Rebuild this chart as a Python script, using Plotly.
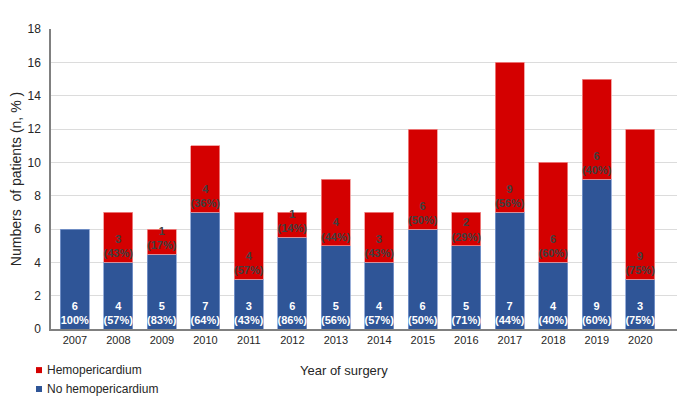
import plotly.graph_objects as go

years = ["2007", "2008", "2009", "2010", "2011", "2012", "2013",
         "2014", "2015", "2016", "2017", "2018", "2019", "2020"]
# segment heights as drawn
no_hemo = [6, 4, 4.5, 7, 3, 5.5, 5, 4, 6, 5, 7, 4, 9, 3]
hemo = [0, 3, 1.5, 4, 4, 1.5, 4, 3, 6, 2, 9, 6, 6, 9]
# labels as printed
no_hemo_lbl = ["6<br>100%", "4<br>(57%)", "5<br>(83%)", "7<br>(64%)", "3<br>(43%)",
               "6<br>(86%)", "5<br>(56%)", "4<br>(57%)", "6<br>(50%)", "5<br>(71%)",
               "7<br>(44%)", "4<br>(40%)", "9<br>(60%)", "3<br>(75%)"]
hemo_lbl = ["", "3<br>(43%)", "1<br>(17%)", "4<br>(36%)", "4<br>(57%)",
            "1<br>(14%)", "4<br>(44%)", "3<br>(43%)", "6<br>(50%)", "2<br>(29%)",
            "9<br>(56%)", "6<br>(60%)", "6<br>(40%)", "9<br>(75%)"]
legend_names = ["Hemopericardium", "No hemopericardium"]

FONT = "Liberation Sans, Arial, sans-serif"
BLUE = "#2f5597"
RED = "#d40000"

fig = go.Figure()
fig.add_trace(go.Bar(
    x=years, y=no_hemo, name=legend_names[1], showlegend=False,
    marker=dict(color=BLUE, line=dict(color="#7f9bd0", width=0.8)),
    text=no_hemo_lbl, textposition="inside", insidetextanchor="start",
    constraintext="none", textangle=0,
    textfont=dict(family=FONT, size=11, color="white", weight="bold"),
))
fig.add_trace(go.Bar(
    x=years, y=hemo, name=legend_names[0], showlegend=False,
    marker=dict(color=RED, line=dict(color="#f09090",
                                     width=[0 if v == 0 else 0.8 for v in hemo])),
    text=hemo_lbl, textposition="inside", insidetextanchor="start",
    constraintext="none", textangle=0,
    textfont=dict(family=FONT, size=11, color="#404040", weight="bold"),
))

# manual legend (small squares + labels) below the plot, at left
shapes = []
annotations = []
for i, (nm, col) in enumerate(zip(legend_names, [RED, BLUE])):
    yc = -0.137 - i * 0.063
    shapes.append(dict(type="rect", xref="paper", yref="paper",
                       x0=-0.0239, x1=-0.0143, y0=yc - 0.01, y1=yc + 0.01,
                       fillcolor=col, line=dict(width=0)))
    annotations.append(dict(text=nm, x=-0.0096, y=yc, xref="paper", yref="paper",
                            xanchor="left", yanchor="middle", showarrow=False,
                            font=dict(family=FONT, size=12, color="#262626")))
annotations.append(dict(
    text="Year of surgery", x=0.467, y=-0.137, xref="paper", yref="paper",
    xanchor="center", yanchor="middle", showarrow=False,
    font=dict(family=FONT, size=13, color="#262626"),
))

fig.update_layout(
    width=677, height=401,
    barmode="stack", bargap=0.33,
    margin=dict(l=43, r=6, t=21, b=80, autoexpand=False),
    plot_bgcolor="white", paper_bgcolor="white",
    font=dict(family=FONT, color="#404040"),
    showlegend=False,
    xaxis=dict(
        type="category", range=[-0.55, 13.89],
        showline=True, linecolor="#808080", linewidth=1.5,
        ticks="", tickfont=dict(family=FONT, size=11, color="#262626"),
        showgrid=False,
    ),
    yaxis=dict(
        range=[0, 18], dtick=2,
        showline=True, linecolor="#808080", linewidth=1.5,
        gridcolor="#dcdcdc", gridwidth=1,
        tickfont=dict(family=FONT, size=12, color="#262626"),
        ticks="", ticklen=0, ticklabelstandoff=6,
        title=dict(text="Numbers  of patients (n, % )",
                   font=dict(family=FONT, size=14, color="#262626"),
                   standoff=6),
        zeroline=False,
    ),
    shapes=shapes,
    annotations=annotations,
)

fig.write_html("out.html")
